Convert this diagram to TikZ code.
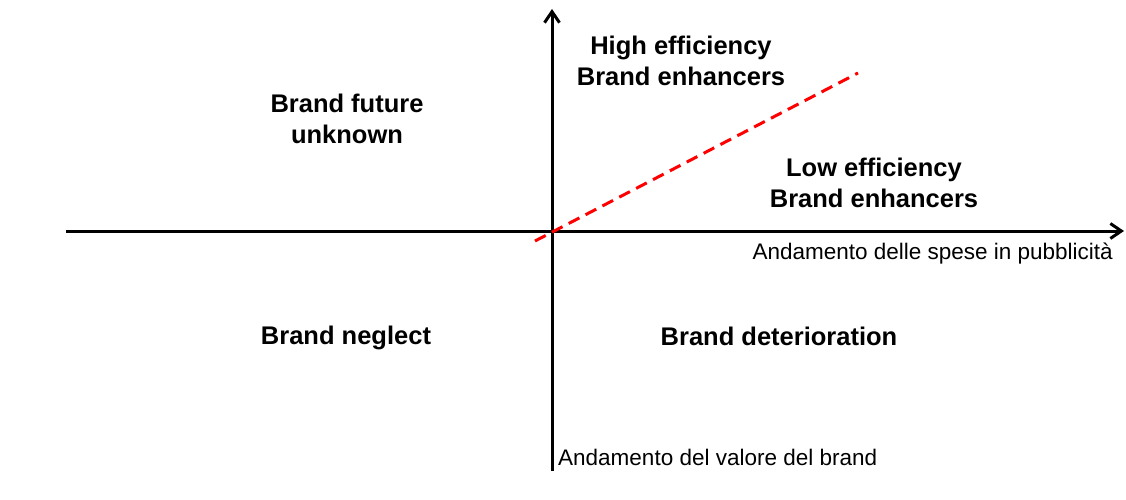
\documentclass[tikz,border=0pt]{standalone}
\usepackage{fontspec}
\setmainfont{Liberation Sans}
\usetikzlibrary{arrows.meta,positioning}

\begin{document}
\begin{tikzpicture}[x=1pt,y=-1pt,
    axis/.style={line width=3pt, -{Straight Barb[length=11pt,width=15pt]}},
    trend/.style={red, line width=3pt, dash pattern=on 12pt off 7pt},
    quad/.style={font=\fontsize{25.5}{31}\selectfont\bfseries, align=center, anchor=base, inner sep=0pt},
    lab/.style={font=\fontsize{22.5}{27}\selectfont, inner sep=0pt}]
\useasboundingbox (0,0) rectangle (1126,500);

% axes
\coordinate (O) at (552,231);
\coordinate (xs) at (66,231);
\coordinate (xe) at (1124,231);
\coordinate (ys) at (552,471);
\coordinate (ye) at (552,9);
\draw[axis] (xs) -- (xe);
\draw[axis] (ys) -- (ye);

% efficiency border
\coordinate (r1) at (535,241);
\coordinate (r2) at (858,73);
\draw[trend] (r1) -- (r2);

% quadrants (base = last line)
\node[quad] (high) at (681,86) {High efficiency\\Brand enhancers};
\node[quad] (future) at (347,143) {Brand future\\unknown};
\node[quad] (low) at (874,207) {Low efficiency\\Brand enhancers};
\node[quad] (neglect) at (346,344) {Brand neglect};
\node[quad] (deter) at (779,345) {Brand deterioration};

% axis labels
\node[lab, anchor=base east] (xlab) at (1113,259) {Andamento delle spese in pubblicità};
\node[lab, anchor=base west] (ylab) at (558,465) {Andamento del valore del brand};
\end{tikzpicture}
\end{document}
